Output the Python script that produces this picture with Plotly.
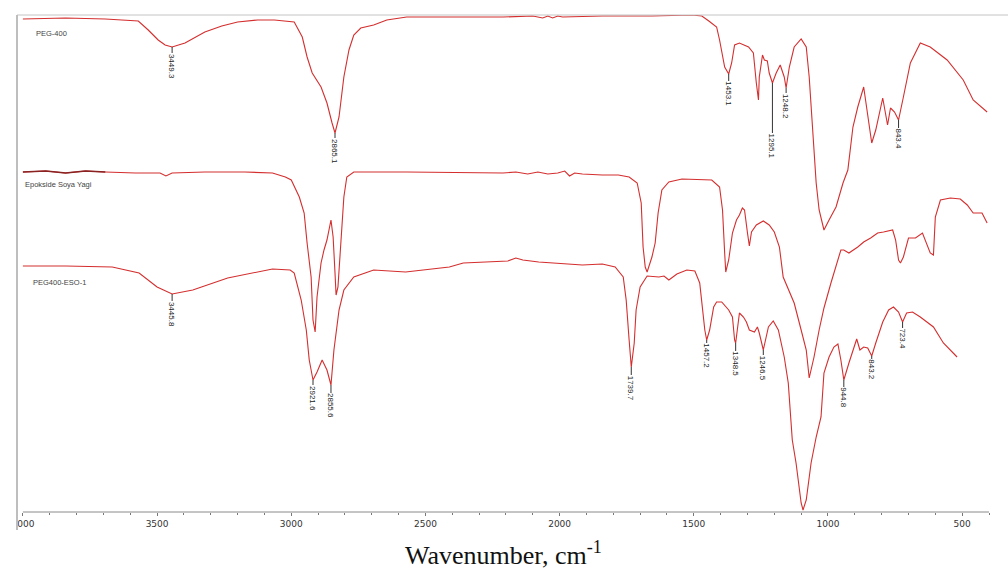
import numpy as np
import plotly.graph_objects as go

# ---------------- data ----------------
series_names = ["PEG-400", "Epokside Soya Yagi", "PEG400-ESO-1"]

# PEG-400 (top spectrum): wavenumber (cm-1) and transmittance (a.u., offset)
peg_wn = [4000, 3841, 3693, 3570, 3533, 3496, 3470, 3444, 3396, 3322, 3259, 3200, 3126, 3063,
          2989, 2959, 2941, 2922, 2889, 2867, 2848, 2837, 2822, 2804, 2785, 2767, 2741, 2693,
          2644, 2570, 2396, 2211, 2100, 2063, 2044, 2026, 2007, 1989, 1841, 1656, 1507, 1470,
          1444, 1415, 1404, 1385, 1370, 1359, 1348, 1330, 1296, 1278, 1267, 1259, 1256, 1244,
          1237, 1226, 1219, 1207, 1193, 1178, 1163, 1156, 1144, 1126, 1100, 1081, 1070, 1056,
          1044, 1033, 1015, 996, 970, 944, 926, 907, 889, 867, 852, 837, 822, 796, 778, 767,
          752, 737, 719, 693, 656, 619, 556, 496, 459, 407]
peg_t = [493, 494, 493, 491, 482, 472, 467, 465, 469, 480, 486, 490, 492, 492,
         490, 475, 455, 439, 425, 409, 389, 379, 395, 435, 462, 477, 484, 487,
         492, 495, 495, 495, 496, 494, 496, 494, 496, 495, 496, 496, 497, 496,
         491, 485, 472, 445, 438, 449, 467, 469, 465, 459, 429, 412, 435, 457,
         452, 451, 439, 429, 439, 447, 435, 424, 445, 465, 473, 465, 435, 375,
         329, 302, 282, 292, 305, 329, 342, 385, 405, 425, 395, 369, 382, 414, 387, 404,
         400, 392, 415, 449, 469, 465, 452, 432, 412, 400]

# Epoxidized soybean oil (middle spectrum)
eso_wn = [4000, 3915, 3841, 3767, 3693, 3581, 3489, 3467, 3444, 3322, 3174, 3070, 3022, 3000,
          2970, 2952, 2941, 2926, 2919, 2911, 2904, 2889, 2878, 2867, 2852, 2844, 2837, 2833,
          2826, 2815, 2804, 2793, 2767, 2570, 2326, 2211, 2163, 2119, 2081, 2044, 2007, 1981,
          1963, 1944, 1915, 1841, 1781, 1741, 1711, 1696, 1689, 1681, 1674, 1656, 1644, 1633,
          1619, 1593, 1544, 1433, 1404, 1393, 1385, 1381, 1370, 1356, 1341, 1330, 1319, 1311,
          1300, 1293, 1285, 1267, 1241, 1219, 1200, 1181, 1167, 1148, 1126, 1100, 1081, 1070,
          1052, 1033, 1015, 989, 963, 952, 941, 922, 889, 867, 841, 815, 793, 759, 748, 737,
          730, 719, 700, 674, 648, 637, 619, 607, 600, 581, 544, 507, 481, 459, 426, 407]
eso_t = [340, 341, 339, 341, 340, 339, 339, 336, 339, 340, 340, 339, 335, 332,
         315, 299, 269, 235, 192, 180, 215, 249, 262, 272, 292, 275, 239, 217,
         225, 269, 315, 335, 340, 340, 339, 339, 340, 338, 340, 338, 339, 341,
         336, 339, 338, 337, 337, 335, 329, 309, 265, 245, 240, 255, 269, 299,
         322, 330, 333, 332, 325, 302, 259, 240, 252, 279, 292, 297, 304, 302,
         279, 266, 280, 287, 291, 287, 280, 265, 235, 222, 209, 182, 162, 134,
         155, 182, 204, 229, 252, 262, 262, 259, 265, 270, 274, 279, 280, 282, 272, 252,
         249, 255, 274, 274, 279, 272, 259, 257, 295, 312, 314, 313, 307, 299, 299, 289]

# PEG400 / ESO blend (bottom spectrum)
blend_wn = [4000, 3841, 3667, 3567, 3500, 3470, 3444, 3367, 3237, 3070, 3004, 2989, 2963, 2944,
            2933, 2919, 2904, 2885, 2867, 2852, 2841, 2822, 2804, 2767, 2693, 2574, 2411, 2359,
            2244, 2193, 2163, 2137, 2078, 1989, 1915, 1841, 1793, 1763, 1752, 1741, 1733, 1722,
            1715, 1700, 1674, 1630, 1611, 1593, 1563, 1526, 1496, 1478, 1470, 1459, 1452, 1441,
            1426, 1415, 1396, 1370, 1356, 1348, 1344, 1333, 1330, 1315, 1304, 1293, 1274, 1263,
            1256, 1241, 1222, 1204, 1185, 1163, 1148, 1133, 1119, 1100, 1093, 1081, 1063, 1044,
            1026, 1015, 996, 978, 963, 952, 941, 922, 904, 893, 881, 867, 852, 837, 822, 796,
            774, 756, 737, 722, 707, 685, 656, 607, 570, 519]
blend_t = [246, 246, 245, 239, 225, 221, 218, 222, 234, 243, 242, 239, 212, 182,
           152, 132, 140, 152, 142, 127, 162, 202, 222, 235, 242, 240, 245, 249,
           250, 251, 254, 252, 250, 248, 247, 248, 245, 235, 212, 172, 145, 169,
           202, 225, 236, 235, 236, 232, 238, 242, 241, 229, 209, 182, 172, 182,
           205, 210, 210, 202, 195, 172, 169, 195, 199, 195, 190, 182, 180, 185,
           179, 162, 185, 191, 182, 155, 129, 72, 49, 9, 2, 12, 49, 75,
           95, 139, 155, 165, 168, 152, 132, 149, 165, 173, 162, 165, 164, 156, 169, 190,
           202, 205, 200, 190, 199, 200, 195, 185, 169, 155]

# peak labels: position of the marked minimum on the drawn curve, and printed text
peg_peak_wn = [3444, 2837, 1370, 1207, 1156, 737]
peg_peak_text = ["3449.3", "2865.1", "1453.1", "1295.1", "1248.2", "843.4"]
blend_peak_wn = [3444, 2919, 2852, 1733, 1452, 1344, 1241, 941, 837, 722]
blend_peak_text = ["3445.8", "2921.6", "2855.6", "1739.7", "1457.2", "1348.5",
                   "1246.5", "944.8", "843.2", "723.4"]

x_ticks = [4000, 3500, 3000, 2500, 2000, 1500, 1000, 500]

# ---------------- styling ----------------
RED = "#d42e2e"
peg_label_offsets = [19, 18, 20, 63, 18, 19]
blend_label_offsets = [20, 18, 21, 21, 16, 21, 18, 18, 14, 17]
name_pos = [(3959, 479), (4000, 328), (3970, 230)]

fig = go.Figure()
for wn, t, nm in [(peg_wn, peg_t, series_names[0]),
                  (eso_wn, eso_t, series_names[1]),
                  (blend_wn, blend_t, series_names[2])]:
    fig.add_trace(go.Scatter(x=wn, y=t, mode="lines", name=nm,
                             line=dict(color=RED, width=1.1), hoverinfo="x+y+name"))

# darker noisy start of the ESO spectrum
eso_wn_a = np.array(eso_wn)
eso_t_a = np.array(eso_t)
mask = eso_wn_a >= 3690
fig.add_trace(go.Scatter(x=eso_wn_a[mask], y=eso_t_a[mask], mode="lines",
                         line=dict(color="#8a2222", width=1.6), hoverinfo="skip"))

annotations = []
def add_peaks(wn_list, t_list, peaks, texts, offsets):
    wa = np.array(wn_list, dtype=float)[::-1]
    ta = np.array(t_list, dtype=float)[::-1]
    for p, txt, off in zip(peaks, texts, offsets):
        yv = float(np.interp(p, wa, ta))
        annotations.append(dict(x=p, y=yv, xref="x", yref="y", text=txt, textangle=90,
                                showarrow=True, arrowhead=0, arrowwidth=1, arrowcolor="#333333",
                                ax=0, ay=off, borderpad=0,
                                font=dict(size=8, color="#222222", family="Liberation Sans")))

add_peaks(peg_wn, peg_t, peg_peak_wn, peg_peak_text, peg_label_offsets)
add_peaks(blend_wn, blend_t, blend_peak_wn, blend_peak_text, blend_label_offsets)

for nm, (xx, yy) in zip(series_names, name_pos):
    annotations.append(dict(x=xx, y=yy, xref="x", yref="y", text=nm, showarrow=False,
                            xanchor="left", yanchor="middle",
                            font=dict(size=7.5, color="#444444", family="Liberation Sans")))

annotations.append(dict(x=0.5, y=-0.083, xref="paper", yref="paper",
                        text="Wavenumber, cm<sup>-1</sup>", showarrow=False,
                        xanchor="center", yanchor="middle",
                        font=dict(size=26, color="#111111", family="Liberation Serif")))

shapes = [
    # bottom axis line
    dict(type="line", xref="x", yref="paper", x0=4000, x1=400, y0=0, y1=0,
         line=dict(color="#8a8a8a", width=1), layer="above"),
    # top frame line
    dict(type="line", xref="paper", yref="paper", x0=0, x1=1.03, y0=1, y1=1,
         line=dict(color="#c4c4c4", width=1), layer="above"),
    # white mask on the far left (clips the first tick label)
    dict(type="rect", xref="paper", yref="paper", x0=-0.02, x1=0.001, y0=-0.12, y1=1.0,
         fillcolor="white", line=dict(width=0), layer="above"),
    # left frame line
    dict(type="line", xref="paper", yref="paper", x0=0, x1=0, y0=-0.036, y1=1,
         line=dict(color="#a8a8a8", width=1.5), layer="above"),
]

fig.update_layout(width=1008, height=573, margin=dict(l=11, r=19, t=15, b=61),
                  plot_bgcolor="white", paper_bgcolor="white", showlegend=False,
                  annotations=annotations, shapes=shapes)
fig.update_xaxes(range=[4022, 400], tickmode="array", tickvals=x_ticks,
                 ticktext=[str(v) for v in x_ticks], ticks="outside", ticklen=3,
                 tickcolor="#777777", showline=False, showgrid=False, zeroline=False,
                 tickfont=dict(size=9, color="#333333", family="DejaVu Sans"),
                 minor=dict(tickmode="linear", tick0=0, dtick=100, ticks="outside",
                            ticklen=2, tickcolor="#777777", showgrid=False))
fig.update_yaxes(range=[0, 497], visible=False, showgrid=False, zeroline=False)

fig.write_html("out.html", config={"displayModeBar": False},
               post_script="document.body.style.margin='0px';document.body.style.overflow='hidden';")
